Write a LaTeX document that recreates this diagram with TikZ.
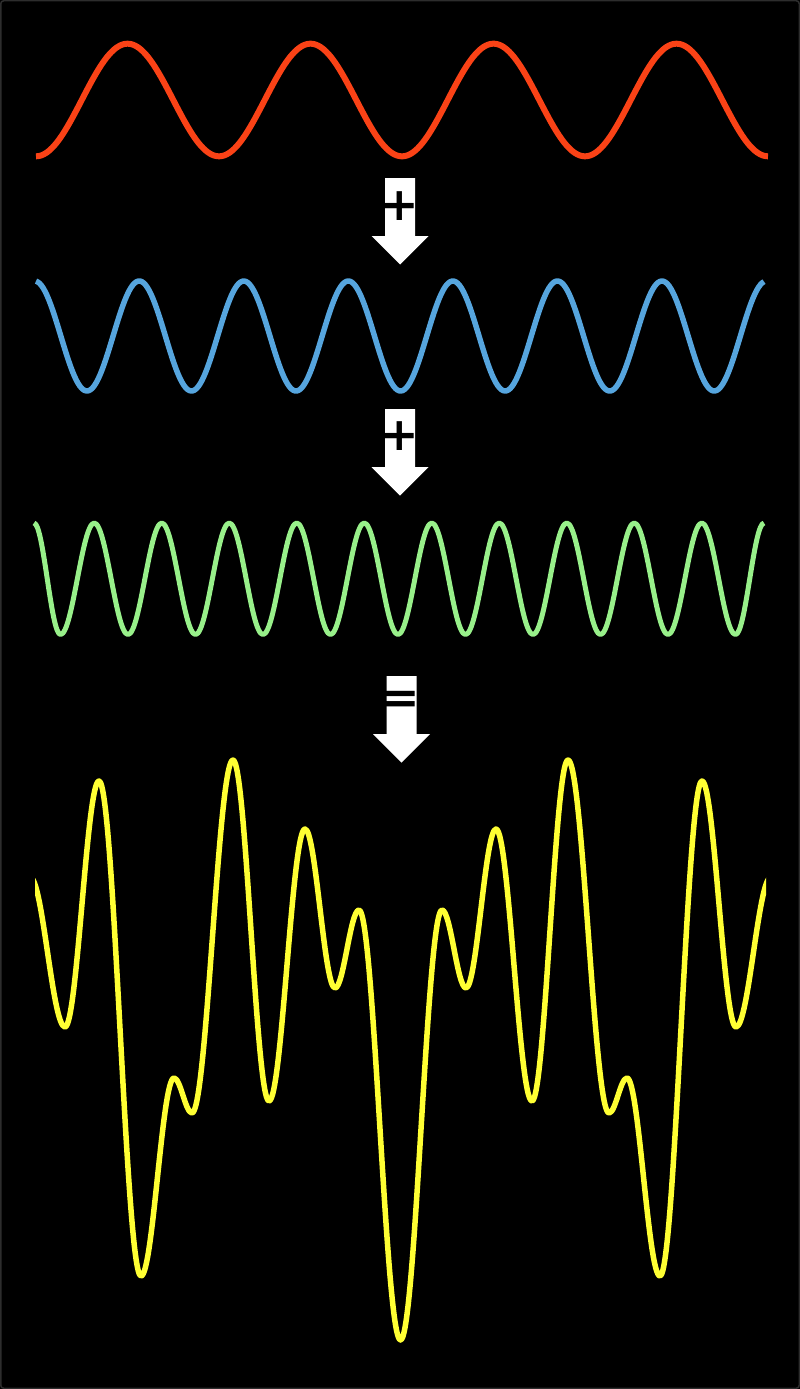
\documentclass[tikz,border=0pt]{standalone}
\usepackage{fontspec}
\newfontfamily\signfont{DejaVu Sans}
\definecolor{wred}{RGB}{250,66,22}
\definecolor{wblue}{RGB}{86,165,222}
\definecolor{wgreen}{RGB}{152,240,138}
\definecolor{wyellow}{RGB}{255,255,51}
\definecolor{frame}{RGB}{45,45,45}
\tikzset{
  wave/.style={line join=round, line cap=butt},
  redwave/.style={wave, draw=wred, line width=6pt},
  bluewave/.style={wave, draw=wblue, line width=5.5pt},
  greenwave/.style={wave, draw=wgreen, line width=5pt},
  yellowwave/.style={wave, draw=wyellow, line width=5.5pt},
  sign/.style={inner sep=0pt, text=black, font=\signfont\bfseries\fontsize{46}{46}\selectfont},
  pics/addarrow/.style={code={
    \fill[white] (-15,0) -- (15,0) -- (15,58) -- (28.5,58) -- (0,86.5)
      -- (-28.5,58) -- (-15,58) -- cycle;}}
}
\begin{document}
\begin{tikzpicture}[x=1pt,y=-1pt]
\fill[black] (0,0) rectangle (800,1389);
\useasboundingbox (0,0) rectangle (800,1389);
\draw[frame, line width=1.5pt, rounded corners=3pt] (0.75,0.75) rectangle (799.25,1388.25);

% component waves
\draw[redwave] plot[domain=36:768, samples=400, variable=\t]
  (\t, {100+56.3*cos((\t-36)/183*360)});
\draw[bluewave] plot[domain=36:764, samples=400, variable=\t]
  (\t, {336+55*cos((\t-400.6)/104.55*360)});
\draw[greenwave] (34,523)
  \foreach \x/\y [remember=\x as \px (initially 34), remember=\y as \py (initially 523)] in
  {60.5/634.5, 94.25/523, 128/634.5, 161.75/523, 195.5/634.5, 229.25/523,
   263/634.5, 296.75/523, 330.5/634.5, 364.25/523, 398/634.5, 431.75/523,
   465.5/634.5, 499.25/523, 533/634.5, 566.75/523, 600.5/634.5, 634.25/523,
   668/634.5, 701.75/523, 735.5/634.5, 764/523}
  { .. controls ({\px+0.3634*(\x-\px)},\py) and ({\x-0.3634*(\x-\px)},\y) .. (\x,\y) };

% arrows with signs
\pic (arr1) at (400,178) {addarrow};
\pic (arr2) at (400,409) {addarrow};
\pic (arr3) at (401.5,676) {addarrow};
\node[sign] (plus1) at (399.5,206.5) {+};
\node[sign] (plus2) at (399.5,436.5) {+};
\node[sign] (equals) at (401,702.5) {=};

% resulting sum
\begin{scope}
\clip (35,700) rectangle (766,1380);
\draw[yellowwave] (30,877)
  \foreach \x/\y [remember=\x as \px (initially 30), remember=\y as \py (initially 877)] in
  {65/1027, 99/781, 141/1276, 174/1078, 192/1113, 233/760, 269/1101, 305/829,
   335/988, 359/910, 400.5/1340, 442/910, 466/988, 496/829, 532/1101, 568/760,
   609/1113, 627/1078, 660/1276, 702/781, 736/1027, 771/877}
  { .. controls ({\px+0.3634*(\x-\px)},\py) and ({\x-0.3634*(\x-\px)},\y) .. (\x,\y) };
\end{scope}
\end{tikzpicture}
\end{document}
